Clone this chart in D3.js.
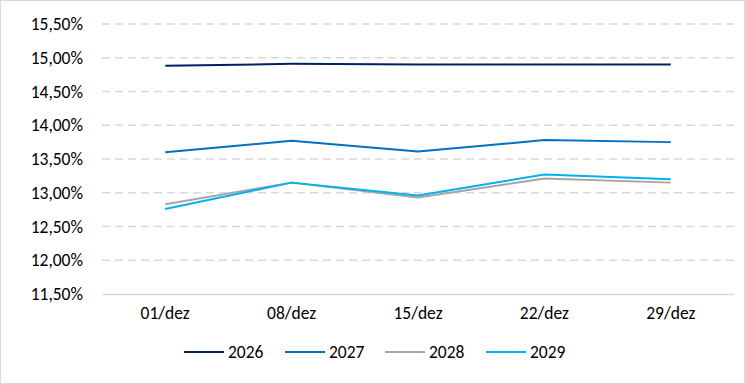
<!DOCTYPE html>
<html><head><meta charset="utf-8">
<script src="https://cdn.jsdelivr.net/npm/d3@7"></script>
<style>body{margin:0;background:#fff}svg{display:block}</style>
</head><body>
<script>
const categories = ["01/dez","08/dez","15/dez","22/dez","29/dez"];
const seriesNames = ["2026","2027","2028","2029"];
const s2026 = [14.88,14.91,14.90,14.90,14.90];
const s2027 = [13.60,13.77,13.61,13.78,13.75];
const s2028 = [12.83,13.15,12.93,13.21,13.15];
const s2029 = [12.76,13.15,12.96,13.27,13.20];
const yTicks = [11.5,12,12.5,13,13.5,14,14.5,15,15.5];
const colors = ["#002060","#0070C0","#A5A5A5","#00B0F0"];

const W=745,H=384;
const svg=d3.select("body").append("svg").attr("width",W).attr("height",H);
const font="Carlito, Calibri, Lato, 'Open Sans', sans-serif";
const fs=17.5;
svg.append("rect").attr("x",0.5).attr("y",0.5).attr("width",W-1).attr("height",H-1).attr("fill","#fff").attr("stroke","#D9D9D9");

const x=d3.scaleBand().domain(categories).range([102,734]);
const y=d3.scaleLinear().domain([11.5,15.5]).range([294,24]);

const fmt=v=>v.toFixed(2).replace(".",",")+"%";
svg.append("g").selectAll("line").data(yTicks.filter(t=>t>11.5)).join("line")
  .attr("x1",102).attr("x2",734).attr("y1",d=>y(d)).attr("y2",d=>y(d))
  .attr("stroke","#D9D9D9").attr("stroke-width",1.3).attr("stroke-dasharray","8,5");
const yAxis=svg.append("g").attr("transform","translate(102,0)")
  .call(d3.axisLeft(y).tickValues(yTicks).tickFormat(fmt).tickSize(0).tickPadding(19));
yAxis.select(".domain").remove();
yAxis.selectAll("text").attr("font-family",font).attr("font-size",fs).attr("fill","#000");
const xAxis=svg.append("g").attr("transform","translate(0,294)")
  .call(d3.axisBottom(x).tickSize(0).tickPadding(13));
xAxis.select(".domain").attr("stroke","#D9D9D9").attr("stroke-width",1.3);
xAxis.selectAll("text").attr("font-family",font).attr("font-size",fs).attr("fill","#000");

const data=[s2026,s2027,s2028,s2029];
const line=d3.line().x((d,i)=>x(categories[i])+x.bandwidth()/2).y(d=>y(d));
[2,3,1,0].forEach(k=>{
  svg.append("path").datum(data[k]).attr("d",line).attr("fill","none")
    .attr("stroke",colors[k]).attr("stroke-width",2).attr("stroke-linejoin","round");
});
const lx=[184,285,385,486];
const lg=svg.append("g");
seriesNames.forEach((n,i)=>{
  lg.append("line").attr("x1",lx[i]).attr("x2",lx[i]+40).attr("y1",352).attr("y2",352)
    .attr("stroke",colors[i]).attr("stroke-width",2);
  lg.append("text").attr("x",lx[i]+44).attr("y",358).text(n)
    .attr("font-family",font).attr("font-size",fs).attr("fill","#000");
});
</script>
</body></html>
